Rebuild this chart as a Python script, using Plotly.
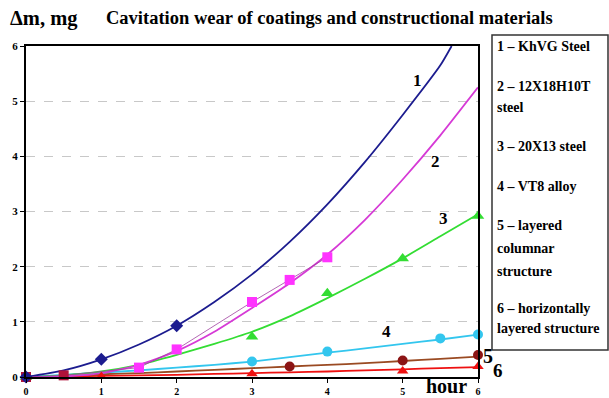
import plotly.graph_objects as go

# Measured points (hours, mg)
hours_1 = [0, 1, 2]
wear_1 = [0, 0.32, 0.93]
hours_2 = [0, 0.5, 1.5, 2, 3, 3.5, 4]
wear_2 = [0, 0.03, 0.17, 0.50, 1.36, 1.76, 2.17]
hours_3 = [0, 3, 4, 5, 6]
wear_3 = [0, 0.73, 1.52, 2.15, 2.92]
hours_4 = [0, 3, 4, 5.5, 6]
wear_4 = [0, 0.28, 0.46, 0.70, 0.77]
hours_5 = [0, 3.5, 5, 6]
wear_5 = [0, 0.19, 0.30, 0.40]
hours_6 = [0, 1, 3, 5, 6]
wear_6 = [0, 0.01, 0.06, 0.11, 0.19]

# Trend curves
trend_x = [0, 0.5, 1, 1.5, 2, 2.5, 3, 3.5, 4, 4.5, 5, 5.5, 6]
trend_x1 = [0, 0.5, 1, 1.5, 2, 2.5, 3, 3.5, 4, 4.5, 5, 5.5, 5.65]
trend_1 = [0, 0.12, 0.32, 0.59, 0.93, 1.36, 1.86, 2.45, 3.13, 3.9, 4.75, 5.65, 6.0]
trend_2 = [0, 0.01, 0.07, 0.22, 0.47, 0.82, 1.25, 1.70, 2.22, 2.85, 3.58, 4.38, 5.25]
trend_3 = [0, 0.03, 0.1, 0.22, 0.4, 0.6, 0.82, 1.1, 1.43, 1.78, 2.15, 2.55, 2.95]
trend_4 = [0, 0.04, 0.08, 0.12, 0.17, 0.22, 0.28, 0.36, 0.44, 0.52, 0.6, 0.68, 0.77]
trend_5 = [0, 0.02, 0.05, 0.07, 0.1, 0.13, 0.16, 0.19, 0.22, 0.25, 0.29, 0.33, 0.37]
trend_6 = [0, 0.01, 0.02, 0.03, 0.04, 0.055, 0.07, 0.085, 0.1, 0.12, 0.14, 0.16, 0.18]

curve_labels = ["1", "2", "3", "4", "5", "6"]
label_x = [5.2, 5.44, 5.54, 4.78, 6.13, 6.27]
label_y = [5.38, 3.91, 2.88, 0.82, 0.38, 0.11]
label_size = [17, 17, 17, 17, 20, 19]

legend_lines = [
    ("1 – KhVG Steel", 46),
    ("2 – 12X18H10T", 87),
    ("steel", 107),
    ("3 – 20X13 steel", 146),
    ("4 – VT8 alloy", 186),
    ("5 – layered", 225),
    ("columnar", 248),
    ("structure", 271),
    ("6 – horizontally", 308),
    ("layered structure", 328),
]

x_ticks = [0, 1, 2, 3, 4, 5, 6]
y_ticks = [0, 1, 2, 3, 4, 5, 6]

SERIF = "Liberation Serif"
NAVY = "#1c1c8f"
MAGENTA = "#ff33ff"
MAGENTA_LINE = "#d63ad6"
GREEN = "#33dd33"
CYAN = "#33c6ee"
BROWN = "#9a4a22"
MAROON = "#8c1515"
RED = "#ee1111"

W, H = 609, 398
L, R, T, B = 26, 131, 46, 21
X_MAX, Y_MAX = 6, 6

fig = go.Figure()

def trend(x, y, color, width=1.8):
    fig.add_trace(go.Scatter(x=x, y=y, mode="lines", line=dict(color=color, width=width, shape="spline", smoothing=0.6),
                             hoverinfo="skip", showlegend=False))

trend(trend_x, trend_6, RED)
trend(trend_x, trend_5, BROWN)
trend(trend_x, trend_4, CYAN)
trend(trend_x, trend_3, GREEN)
trend(trend_x, trend_2, MAGENTA_LINE)
trend(trend_x1, trend_1, NAVY)

# measured markers
fig.add_trace(go.Scatter(x=hours_6, y=wear_6, mode="markers", showlegend=False, cliponaxis=False,
                         marker=dict(symbol="triangle-up", size=10, color=RED)))
fig.add_trace(go.Scatter(x=hours_5, y=wear_5, mode="markers", showlegend=False, cliponaxis=False,
                         marker=dict(symbol="circle", size=10, color=MAROON)))
fig.add_trace(go.Scatter(x=hours_4, y=wear_4, mode="markers", showlegend=False, cliponaxis=False,
                         marker=dict(symbol="circle", size=10, color=CYAN)))
fig.add_trace(go.Scatter(x=hours_3, y=wear_3, mode="markers", showlegend=False, cliponaxis=False,
                         marker=dict(symbol="triangle-up", size=11, color=GREEN)))
sq_colors = ["#b0123a", "#b0123a"] + [MAGENTA] * (len(hours_2) - 2)
fig.add_trace(go.Scatter(x=hours_2, y=wear_2, mode="lines+markers", showlegend=False, cliponaxis=False,
                         line=dict(color="#a040a0", width=0.8),
                         marker=dict(symbol="square", size=10, color=sq_colors)))
fig.add_trace(go.Scatter(x=hours_1, y=wear_1, mode="markers", showlegend=False, cliponaxis=False,
                         marker=dict(symbol="diamond", size=10, color=NAVY)))

annotations = []
# curve numbers (placed in paper space so labels past the axis end still show)
for t, x, y, s in zip(curve_labels, label_x, label_y, label_size):
    annotations.append(dict(x=x / X_MAX, y=y / Y_MAX, xref="paper", yref="paper", text=t, showarrow=False,
                            xanchor="center", yanchor="middle",
                            font=dict(family=SERIF, size=s, color="black", weight="bold")))

def px_to_paper(px, py):
    return (px - L) / (W - L - R), (H - B - py) / (H - T - B)

for text, py in legend_lines:
    xp, yp = px_to_paper(495, py)
    annotations.append(dict(x=xp, y=yp, xref="paper", yref="paper", text=text, showarrow=False,
                            xanchor="left", yanchor="middle",
                            font=dict(family=SERIF, size=14, color="black", weight="bold")))

xp, yp = px_to_paper(8, 18)
annotations.append(dict(x=xp, y=yp, xref="paper", yref="paper", text="Δm, mg", showarrow=False,
                        xanchor="left", yanchor="middle",
                        font=dict(family=SERIF, size=20.5, color="black", weight="bold")))
xp, yp = px_to_paper(104, 18)
annotations.append(dict(x=xp, y=yp, xref="paper", yref="paper",
                        text="Cavitation wear of coatings and constructional materials", showarrow=False,
                        xanchor="left", yanchor="middle",
                        font=dict(family=SERIF, size=18.5, color="black", weight="bold")))
xp, yp = px_to_paper(446, 386)
annotations.append(dict(x=xp, y=yp, xref="paper", yref="paper", text="hour", showarrow=False,
                        xanchor="center", yanchor="middle",
                        font=dict(family=SERIF, size=20, color="black", weight="bold")))

x0, y0 = px_to_paper(492, 350)
x1, y1 = px_to_paper(608, 35)
shapes = [dict(type="rect", xref="paper", yref="paper", x0=x0, y0=y0, x1=x1, y1=y1,
               line=dict(color="#333333", width=1.5), fillcolor="rgba(0,0,0,0)")]

fig.update_layout(
    width=W, height=H,
    margin=dict(l=L, r=R, t=T, b=B, autoexpand=False),
    paper_bgcolor="white", plot_bgcolor="white",
    annotations=annotations, shapes=shapes,
    xaxis=dict(range=[0, X_MAX], tickvals=x_ticks, ticktext=[str(v) for v in x_ticks],
               showgrid=False, zeroline=False, showline=True, linecolor="black", linewidth=2,
               mirror=True, ticks="outside", ticklen=4, tickcolor="black",
               tickfont=dict(family=SERIF, size=10, color="black", weight="bold")),
    yaxis=dict(range=[0, Y_MAX], tickvals=y_ticks, ticktext=[str(v) for v in y_ticks],
               showgrid=True, gridcolor="#c8c8c8", griddash="dash", gridwidth=1,
               zeroline=False, showline=True, linecolor="black", linewidth=2,
               mirror=True, ticks="outside", ticklen=4, tickcolor="black",
               tickfont=dict(family=SERIF, size=11, color="black", weight="bold")),
)

fig.write_html("out.html")
